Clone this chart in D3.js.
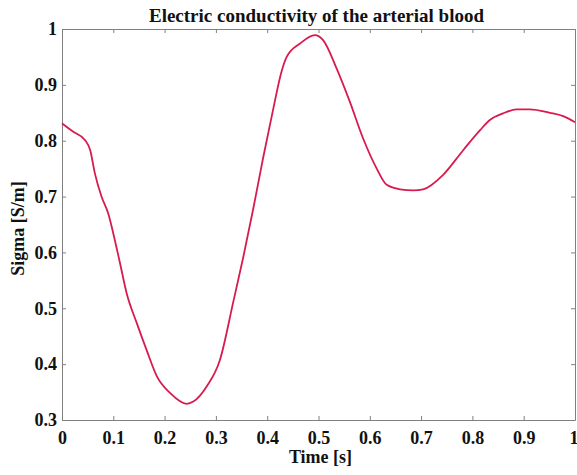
<!DOCTYPE html>
<html>
<head>
<meta charset="utf-8">
<script src="https://cdn.jsdelivr.net/npm/d3@7"></script>
<style>
  html, body { margin:0; padding:0; background:#fff; }
  svg text { font-family:"Liberation Serif","DejaVu Serif",serif; font-weight:bold; fill:#111; }
</style>
</head>
<body>
<svg id="chart" width="577" height="475"></svg>
<script>
/* ---------- data ---------- */
const timeS = [0, 0.022, 0.045, 0.055, 0.064, 0.077, 0.090, 0.100, 0.113, 0.126, 0.146,
  0.165, 0.185, 0.211, 0.243, 0.256, 0.282, 0.308, 0.334, 0.353, 0.373, 0.392, 0.412,
  0.428, 0.438, 0.464, 0.493, 0.509, 0.535, 0.561, 0.587, 0.613, 0.633, 0.659, 0.685,
  0.704, 0.743, 0.782, 0.815, 0.834, 0.860, 0.886, 0.912, 0.951, 0.977, 1.0];
const sigma = [0.831, 0.816, 0.801, 0.783, 0.742, 0.700, 0.670, 0.634, 0.581, 0.527, 0.473,
  0.425, 0.378, 0.348, 0.329, 0.333, 0.360, 0.408, 0.512, 0.590, 0.679, 0.769, 0.858,
  0.924, 0.950, 0.974, 0.989, 0.980, 0.930, 0.870, 0.804, 0.751, 0.721, 0.713, 0.711,
  0.713, 0.739, 0.783, 0.819, 0.837, 0.849, 0.856, 0.856, 0.850, 0.844, 0.833];
const xTicks = [0, 0.1, 0.2, 0.3, 0.4, 0.5, 0.6, 0.7, 0.8, 0.9, 1];
const yTicks = [0.3, 0.4, 0.5, 0.6, 0.7, 0.8, 0.9, 1];

/* ---------- layout ---------- */
const svg = d3.select("#chart");
const m = { left:62, right:575, top:29, bottom:420 };
const x = d3.scaleLinear().domain([0, 1]).range([m.left, m.right]);
const y = d3.scaleLinear().domain([0.3, 1]).range([m.bottom, m.top]);
const fmt = d => d === 0 || d === 1 ? String(d) : d3.format(".1f")(d);
const axisColor = "#808080";

/* ---------- axes (ticks inward, boxed) ---------- */
function styleAxis(g, noText) {
  g.select(".domain").attr("stroke", axisColor);
  g.selectAll(".tick line").attr("stroke", axisColor);
  g.selectAll("text").attr("font-size", 18)
    .attr("font-family", "Liberation Serif").attr("font-weight", "bold").attr("fill", "#111");
  if (noText) g.selectAll("text").remove();
}
svg.append("g").attr("transform", `translate(0,${m.bottom})`)
  .call(d3.axisBottom(x).tickValues(xTicks).tickFormat(fmt).tickSizeInner(-4).tickSizeOuter(0).tickPadding(11))
  .call(g => styleAxis(g))
  .call(g => g.selectAll(".tick").filter(d => d === 1).select("text")
    .attr("text-anchor", "end").attr("x", 3));
svg.append("g").attr("transform", `translate(0,${m.top})`)
  .call(d3.axisTop(x).tickValues(xTicks).tickSizeInner(-4).tickSizeOuter(0))
  .call(g => styleAxis(g, true));
svg.append("g").attr("transform", `translate(${m.left},0)`)
  .call(d3.axisLeft(y).tickValues(yTicks).tickFormat(fmt).tickSizeInner(-4).tickSizeOuter(0).tickPadding(5))
  .call(g => styleAxis(g));
svg.append("g").attr("transform", `translate(${m.right},0)`)
  .call(d3.axisRight(y).tickValues(yTicks).tickSizeInner(-4).tickSizeOuter(0))
  .call(g => styleAxis(g, true));

/* ---------- curve ---------- */
const pts = timeS.map((t, i) => [t, sigma[i]]);
svg.append("path").datum(pts)
  .attr("fill", "none").attr("stroke", "#d81b4e").attr("stroke-width", 1.8)
  .attr("d", d3.line().x(d => x(d[0])).y(d => y(d[1])).curve(d3.curveMonotoneX));

/* ---------- labels ---------- */
svg.append("text").attr("x", (m.left + m.right) / 2 - 2).attr("y", 22)
  .attr("text-anchor", "middle").attr("font-size", 19).text("Electric conductivity of the arterial blood");
svg.append("text").attr("x", (m.left + m.right) / 2 + 2).attr("y", 463)
  .attr("text-anchor", "middle").attr("font-size", 18).text("Time [s]");
svg.append("text").attr("transform", `translate(24,${(m.top + m.bottom) / 2 + 4}) rotate(-90)`)
  .attr("text-anchor", "middle").attr("font-size", 18).text("Sigma [S/m]");
</script>
</body>
</html>
